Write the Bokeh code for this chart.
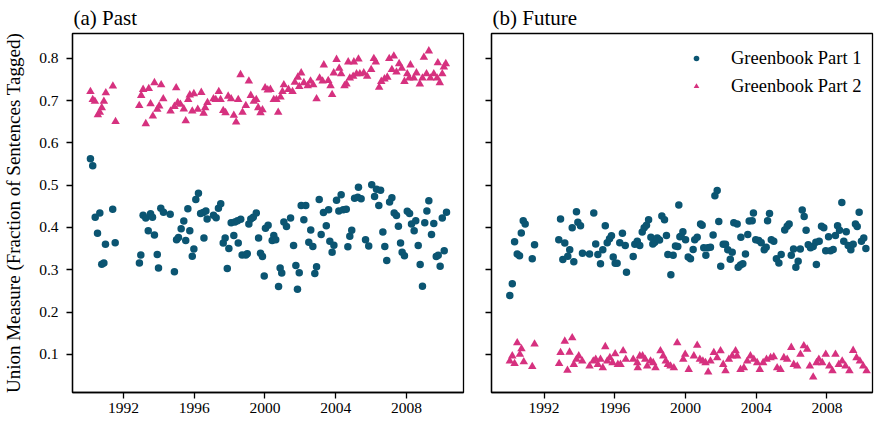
from bokeh.plotting import figure
from bokeh.layouts import row
from bokeh.models import (Range1d, FixedTicker, Legend, LegendItem,
                          CustomJSTickFormatter, PrintfTickFormatter)
from bokeh.embed import file_html
from bokeh.resources import INLINE

# ---------------- data ----------------
past_p1_dates = [1990.13, 1990.26, 1990.40, 1990.53, 1990.66, 1990.77, 1990.89, 1990.98, 1991.39, 1991.53,
    1992.90, 1992.98, 1993.11, 1993.26, 1993.40, 1993.53, 1993.64, 1993.75, 1993.91, 1993.98,
    1994.11, 1994.26, 1994.64, 1994.88, 1995.00, 1995.11, 1995.26, 1995.41, 1995.52, 1995.64,
    1995.75, 1995.89, 1995.98, 1996.09, 1996.24, 1996.36, 1996.51, 1996.55, 1996.66, 1996.73,
    1997.09, 1997.24, 1997.37, 1997.50, 1997.64, 1997.75, 1997.87, 1997.96, 1998.09, 1998.24,
    1998.30, 1998.45, 1998.49, 1998.63, 1998.71, 1998.92, 1999.00, 1999.09, 1999.20, 1999.34,
    1999.51, 1999.64, 1999.75, 1999.86, 1999.96, 2000.03, 2000.18, 2000.41, 2000.50, 2000.61,
    2000.77, 2000.86, 2000.95, 2001.07, 2001.22, 2001.45, 2001.62, 2001.75, 2001.84, 2001.94,
    2002.05, 2002.20, 2002.31, 2002.48, 2002.59, 2002.71, 2002.82, 2002.92, 2003.07, 2003.18,
    2003.31, 2003.47, 2003.60, 2003.67, 2003.80, 2003.90, 2004.05, 2004.18, 2004.31, 2004.43,
    2004.60, 2004.69, 2004.80, 2004.91, 2005.07, 2005.25, 2005.29, 2005.44, 2005.69, 2005.87,
    2006.04, 2006.20, 2006.31, 2006.44, 2006.54, 2006.67, 2006.78, 2006.89, 2007.05, 2007.18,
    2007.31, 2007.44, 2007.55, 2007.67, 2007.76, 2007.89, 2008.05, 2008.18, 2008.29, 2008.44,
    2008.53, 2008.67, 2008.78, 2008.91, 2009.04, 2009.16, 2009.27, 2009.42, 2009.55, 2009.69,
    2009.80, 2009.91, 2010.03, 2010.14, 2010.27]
past_p1_values = [0.562, 0.546, 0.424, 0.386, 0.434, 0.313, 0.316, 0.360, 0.443, 0.364,
    0.316, 0.335, 0.429, 0.422, 0.392, 0.432, 0.424, 0.382, 0.336, 0.304,
    0.445, 0.436, 0.431, 0.295, 0.371, 0.376, 0.397, 0.415, 0.369, 0.444,
    0.392, 0.332, 0.349, 0.466, 0.481, 0.433, 0.435, 0.375, 0.439, 0.420,
    0.429, 0.423, 0.445, 0.456, 0.363, 0.375, 0.303, 0.350, 0.411, 0.381,
    0.413, 0.416, 0.363, 0.419, 0.335, 0.335, 0.338, 0.408, 0.420, 0.424,
    0.434, 0.375, 0.339, 0.331, 0.285, 0.398, 0.405, 0.369, 0.381, 0.371,
    0.260, 0.304, 0.292, 0.413, 0.402, 0.422, 0.357, 0.310, 0.254, 0.293,
    0.452, 0.418, 0.452, 0.365, 0.394, 0.355, 0.291, 0.307, 0.466, 0.383,
    0.435, 0.404, 0.442, 0.367, 0.341, 0.358, 0.464, 0.439, 0.477, 0.442,
    0.443, 0.354, 0.379, 0.393, 0.469, 0.471, 0.495, 0.468, 0.371, 0.356,
    0.501, 0.473, 0.490, 0.452, 0.488, 0.389, 0.355, 0.322, 0.460, 0.470,
    0.434, 0.428, 0.403, 0.363, 0.341, 0.333, 0.438, 0.433, 0.408, 0.392,
    0.416, 0.357, 0.312, 0.261, 0.411, 0.439, 0.463, 0.383, 0.409, 0.331,
    0.334, 0.308, 0.422, 0.345, 0.436]

past_p2_dates = [1990.13, 1990.26, 1990.38, 1990.55, 1990.66, 1990.77, 1990.89, 1991.00, 1991.40, 1991.55,
    1992.89, 1993.00, 1993.11, 1993.26, 1993.43, 1993.53, 1993.66, 1993.75, 1993.91, 1994.02,
    1994.13, 1994.25, 1994.66, 1994.88, 1994.98, 1995.07, 1995.22, 1995.41, 1995.52, 1995.66,
    1995.75, 1995.89, 1995.98, 1996.20, 1996.40, 1996.53, 1996.62, 1996.75, 1997.09, 1997.22,
    1997.39, 1997.49, 1997.64, 1997.77, 1997.92, 1998.09, 1998.24, 1998.37, 1998.49, 1998.62,
    1998.73, 1998.92, 1999.09, 1999.20, 1999.37, 1999.51, 1999.62, 1999.75, 1999.86, 2000.01,
    2000.16, 2000.31, 2000.50, 2000.65, 2000.75, 2000.88, 2000.99, 2001.07, 2001.33, 2001.56,
    2001.69, 2001.86, 2001.94, 2002.05, 2002.20, 2002.42, 2002.58, 2002.73, 2002.92, 2003.09,
    2003.26, 2003.33, 2003.58, 2003.71, 2003.80, 2003.89, 2004.05, 2004.20, 2004.31, 2004.50,
    2004.61, 2004.71, 2004.80, 2004.99, 2005.03, 2005.18, 2005.29, 2005.37, 2005.59, 2005.78,
    2006.01, 2006.16, 2006.27, 2006.46, 2006.58, 2006.76, 2006.92, 2007.03, 2007.18, 2007.29,
    2007.44, 2007.59, 2007.74, 2007.89, 2008.05, 2008.16, 2008.23, 2008.42, 2008.57, 2008.76,
    2008.91, 2008.99, 2009.14, 2009.27, 2009.36, 2009.55, 2009.74, 2009.78, 2009.89, 2010.03,
    2010.12, 2010.23]
past_p2_values = [0.721, 0.702, 0.698, 0.666, 0.672, 0.683, 0.698, 0.718, 0.734, 0.650,
    0.688, 0.712, 0.726, 0.645, 0.728, 0.692, 0.663, 0.742, 0.679, 0.687,
    0.737, 0.704, 0.675, 0.686, 0.730, 0.695, 0.691, 0.680, 0.652, 0.702,
    0.713, 0.675, 0.716, 0.679, 0.719, 0.670, 0.683, 0.695, 0.704, 0.702,
    0.721, 0.702, 0.676, 0.671, 0.710, 0.704, 0.665, 0.649, 0.702, 0.761,
    0.672, 0.688, 0.746, 0.712, 0.698, 0.702, 0.683, 0.671, 0.678, 0.730,
    0.725, 0.726, 0.702, 0.702, 0.672, 0.708, 0.721, 0.737, 0.726, 0.721,
    0.743, 0.755, 0.733, 0.765, 0.742, 0.735, 0.746, 0.737, 0.704, 0.753,
    0.746, 0.784, 0.747, 0.735, 0.714, 0.765, 0.797, 0.776, 0.763, 0.735,
    0.739, 0.791, 0.753, 0.757, 0.791, 0.763, 0.798, 0.763, 0.765, 0.757,
    0.773, 0.799, 0.791, 0.731, 0.745, 0.751, 0.755, 0.799, 0.773, 0.805,
    0.767, 0.787, 0.776, 0.745, 0.763, 0.753, 0.784, 0.753, 0.765, 0.739,
    0.753, 0.802, 0.763, 0.817, 0.753, 0.763, 0.753, 0.789, 0.742, 0.763,
    0.779, 0.787]

future_p1_dates = [1990.06, 1990.20, 1990.33, 1990.48, 1990.61, 1990.71, 1990.82, 1990.93, 1991.33, 1991.46,
    1992.83, 1992.93, 1993.06, 1993.17, 1993.34, 1993.45, 1993.59, 1993.68, 1993.83, 1993.91,
    1994.06, 1994.17, 1994.57, 1994.81, 1994.92, 1995.04, 1995.19, 1995.32, 1995.46, 1995.57,
    1995.70, 1995.81, 1995.91, 1996.02, 1996.13, 1996.28, 1996.43, 1996.59, 1996.66, 1997.04,
    1997.13, 1997.27, 1997.41, 1997.55, 1997.66, 1997.79, 1997.91, 1998.04, 1998.15, 1998.26,
    1998.40, 1998.53, 1998.66, 1998.81, 1998.92, 1999.00, 1999.17, 1999.30, 1999.43, 1999.56,
    1999.62, 1999.68, 1999.75, 1999.85, 2000.00, 2000.15, 2000.28, 2000.43, 2000.52, 2000.66,
    2000.85, 2000.94, 2001.03, 2001.15, 2001.26, 2001.41, 2001.56, 2001.66, 2001.79, 2001.88,
    2001.99, 2002.13, 2002.26, 2002.39, 2002.53, 2002.64, 2002.73, 2002.92, 2002.98, 2003.11,
    2003.13, 2003.24, 2003.39, 2003.52, 2003.60, 2003.77, 2003.84, 2003.97, 2004.14, 2004.28,
    2004.45, 2004.56, 2004.64, 2004.75, 2004.85, 2004.99, 2005.14, 2005.28, 2005.41, 2005.61,
    2005.75, 2005.86, 2005.98, 2006.11, 2006.24, 2006.37, 2006.49, 2006.60, 2006.71, 2006.82,
    2006.94, 2007.07, 2007.22, 2007.37, 2007.40, 2007.56, 2007.69, 2007.82, 2007.93, 2008.09,
    2008.20, 2008.35, 2008.48, 2008.60, 2008.71, 2008.84, 2008.95, 2009.09, 2009.20, 2009.35,
    2009.48, 2009.61, 2009.71, 2009.82, 2009.95, 2010.08, 2010.20]
future_p1_values = [0.239, 0.267, 0.366, 0.337, 0.333, 0.387, 0.416, 0.408, 0.326, 0.359,
    0.371, 0.420, 0.324, 0.363, 0.332, 0.347, 0.399, 0.319, 0.437, 0.412,
    0.404, 0.339, 0.337, 0.434, 0.361, 0.336, 0.314, 0.347, 0.404, 0.364,
    0.373, 0.380, 0.330, 0.315, 0.315, 0.364, 0.386, 0.357, 0.294, 0.331,
    0.360, 0.367, 0.357, 0.389, 0.399, 0.405, 0.418, 0.377, 0.361, 0.365,
    0.375, 0.370, 0.427, 0.418, 0.381, 0.336, 0.288, 0.334, 0.356, 0.355,
    0.453, 0.378, 0.379, 0.390, 0.371, 0.330, 0.326, 0.348, 0.371, 0.377,
    0.408, 0.405, 0.352, 0.334, 0.352, 0.353, 0.382, 0.475, 0.487, 0.414,
    0.308, 0.360, 0.360, 0.347, 0.325, 0.341, 0.411, 0.408, 0.306, 0.311,
    0.377, 0.314, 0.337, 0.383, 0.415, 0.416, 0.434, 0.371, 0.369, 0.364,
    0.347, 0.353, 0.416, 0.433, 0.371, 0.367, 0.326, 0.316, 0.336, 0.394,
    0.403, 0.408, 0.334, 0.349, 0.306, 0.320, 0.349, 0.441, 0.426, 0.393,
    0.359, 0.352, 0.355, 0.365, 0.312, 0.367, 0.403, 0.399, 0.345, 0.378,
    0.345, 0.348, 0.381, 0.404, 0.393, 0.459, 0.367, 0.390, 0.357, 0.347,
    0.360, 0.408, 0.402, 0.436, 0.367, 0.375, 0.350]

future_p2_dates = [1990.06, 1990.20, 1990.33, 1990.48, 1990.63, 1990.72, 1990.85, 1991.33, 1991.46, 1992.85,
    1992.93, 1993.17, 1993.32, 1993.44, 1993.59, 1993.68, 1993.83, 1993.96, 1994.16, 1994.57,
    1994.78, 1994.92, 1995.04, 1995.19, 1995.32, 1995.46, 1995.57, 1995.72, 1995.87, 1996.02,
    1996.17, 1996.32, 1996.47, 1996.62, 1997.04, 1997.27, 1997.30, 1997.41, 1997.57, 1997.72,
    1997.83, 1998.02, 1998.17, 1998.30, 1998.58, 1998.74, 1998.88, 1999.00, 1999.15, 1999.34,
    1999.53, 1999.87, 1999.98, 2000.18, 2000.47, 2000.66, 2000.81, 2000.98, 2001.13, 2001.28,
    2001.41, 2001.60, 2001.79, 2001.98, 2002.13, 2002.26, 2002.45, 2002.64, 2002.83, 2002.92,
    2003.11, 2003.30, 2003.49, 2003.67, 2003.86, 2004.05, 2004.20, 2004.39, 2004.58, 2004.81,
    2004.99, 2005.18, 2005.37, 2005.56, 2005.75, 2005.98, 2006.12, 2006.32, 2006.50, 2006.69,
    2006.88, 2007.03, 2007.22, 2007.41, 2007.54, 2007.73, 2007.93, 2008.13, 2008.31, 2008.48,
    2008.67, 2008.86, 2009.05, 2009.27, 2009.48, 2009.67, 2009.86, 2010.05, 2010.24]
future_p2_values = [0.084, 0.096, 0.078, 0.127, 0.100, 0.113, 0.082, 0.071, 0.124, 0.078,
    0.104, 0.131, 0.062, 0.105, 0.139, 0.076, 0.088, 0.096, 0.084, 0.072,
    0.084, 0.088, 0.076, 0.088, 0.068, 0.118, 0.084, 0.092, 0.080, 0.101,
    0.076, 0.076, 0.108, 0.088, 0.088, 0.080, 0.068, 0.096, 0.096, 0.088,
    0.072, 0.084, 0.080, 0.068, 0.108, 0.096, 0.084, 0.076, 0.072, 0.068,
    0.127, 0.088, 0.100, 0.064, 0.096, 0.121, 0.088, 0.084, 0.080, 0.058,
    0.084, 0.104, 0.092, 0.108, 0.076, 0.061, 0.088, 0.096, 0.108, 0.096,
    0.064, 0.068, 0.084, 0.096, 0.088, 0.080, 0.064, 0.080, 0.088, 0.092,
    0.094, 0.068, 0.064, 0.092, 0.088, 0.116, 0.076, 0.072, 0.100, 0.120,
    0.112, 0.072, 0.046, 0.080, 0.088, 0.080, 0.100, 0.072, 0.061, 0.100,
    0.076, 0.084, 0.072, 0.061, 0.109, 0.092, 0.084, 0.072, 0.061]

x_ticks = [1992, 1996, 2000, 2004, 2008]
y_ticks = [0.1, 0.2, 0.3, 0.4, 0.5, 0.6, 0.7, 0.8]
series_names = ["Greenbook Part 1", "Greenbook Part 2"]
panel_titles = ["(a) Past", "(b) Future"]

# ---------------- style ----------------
FONT = "Liberation Serif"
C1 = "#0b5572"
C2 = "#d6317f"
H = 421
TOP = 33
BOT = 29
FRAME_H = H - TOP - BOT
PX_PER_YEAR = 17.68
PX_PER_UNIT = 423.0
y_top = 0.8 + (57.7 - TOP) / PX_PER_UNIT
y_bot = y_top - FRAME_H / PX_PER_UNIT


def build(frame_w, left, right, x_start, title, show_ylabels):
    p = figure(width=left + frame_w + right, height=H,
               x_range=Range1d(x_start, x_start + frame_w / PX_PER_YEAR),
               y_range=Range1d(y_bot, y_top),
               output_backend="svg", toolbar_location=None,
               min_border_left=left, min_border_right=right,
               min_border_top=TOP, min_border_bottom=BOT)
    p.grid.visible = False
    p.outline_line_color = "black"
    p.outline_line_width = 1.3
    p.background_fill_color = "white"
    for ax in (p.xaxis[0], p.yaxis[0]):
        ax.axis_line_color = "black"
        ax.axis_line_width = 1.3
        ax.major_tick_line_width = 1.3
        ax.major_tick_line_color = "black"
        ax.major_tick_out = 6
        ax.major_tick_in = 0
        ax.minor_tick_line_color = None
        ax.major_label_text_font = FONT
        ax.major_label_text_font_size = "15.5px"
        ax.major_label_text_color = "black"
    p.xaxis.ticker = FixedTicker(ticks=x_ticks)
    p.xaxis.major_label_standoff = 4
    p.yaxis.ticker = FixedTicker(ticks=y_ticks)
    p.yaxis.major_label_standoff = 8
    if show_ylabels:
        p.yaxis.formatter = PrintfTickFormatter(format="%.1f")
    else:
        p.yaxis.formatter = CustomJSTickFormatter(code="return ''")
        p.yaxis.major_label_text_font_size = "0px"
        p.yaxis.major_label_standoff = 0
    p.title.text = title
    p.title.align = "left"
    p.title.offset = 1
    p.title.standoff = 7
    p.title.text_font = FONT
    p.title.text_font_size = "21px"
    p.title.text_font_style = "normal"
    p.title.text_color = "black"
    return p


p1 = build(391, 72, 8, 1992 - (123 - 72) / PX_PER_YEAR, panel_titles[0], True)
p1.yaxis.axis_label = "Union Measure (Fraction of Sentences Tagged)"
p1.yaxis.axis_label_text_font = FONT
p1.yaxis.axis_label_text_font_size = "19px"
p1.yaxis.axis_label_text_font_style = "normal"
p1.yaxis.axis_label_text_color = "black"
p1.yaxis.axis_label_standoff = 12

p2 = build(381, 20, 3, 1992 - (543.6 - 491) / PX_PER_YEAR, panel_titles[1], False)

p1.scatter(past_p1_dates, past_p1_values, marker="circle", size=7.5,
           fill_color=C1, line_color=None)
p1.scatter(past_p2_dates, past_p2_values, marker="triangle", size=8.5,
           fill_color=C2, line_color=None)
r1 = p2.scatter(future_p1_dates, future_p1_values, marker="circle", size=7.5,
                fill_color=C1, line_color=None)
r2 = p2.scatter(future_p2_dates, future_p2_values, marker="triangle", size=8.5,
                fill_color=C2, line_color=None)

legend = Legend(items=[LegendItem(label=series_names[0], renderers=[r1]),
                       LegendItem(label=series_names[1], renderers=[r2])],
                location=(198, (H - BOT) - 96.7), padding=0, margin=0,
                border_line_color=None, background_fill_alpha=0,
                label_text_font=FONT, label_text_font_size="18.5px",
                label_text_color="black", glyph_width=14, glyph_height=20,
                label_height=20, label_standoff=28, spacing=7)
p2.add_layout(legend)

layout = row(p1, p2)
open("out.html", "w").write(file_html(layout, INLINE))
